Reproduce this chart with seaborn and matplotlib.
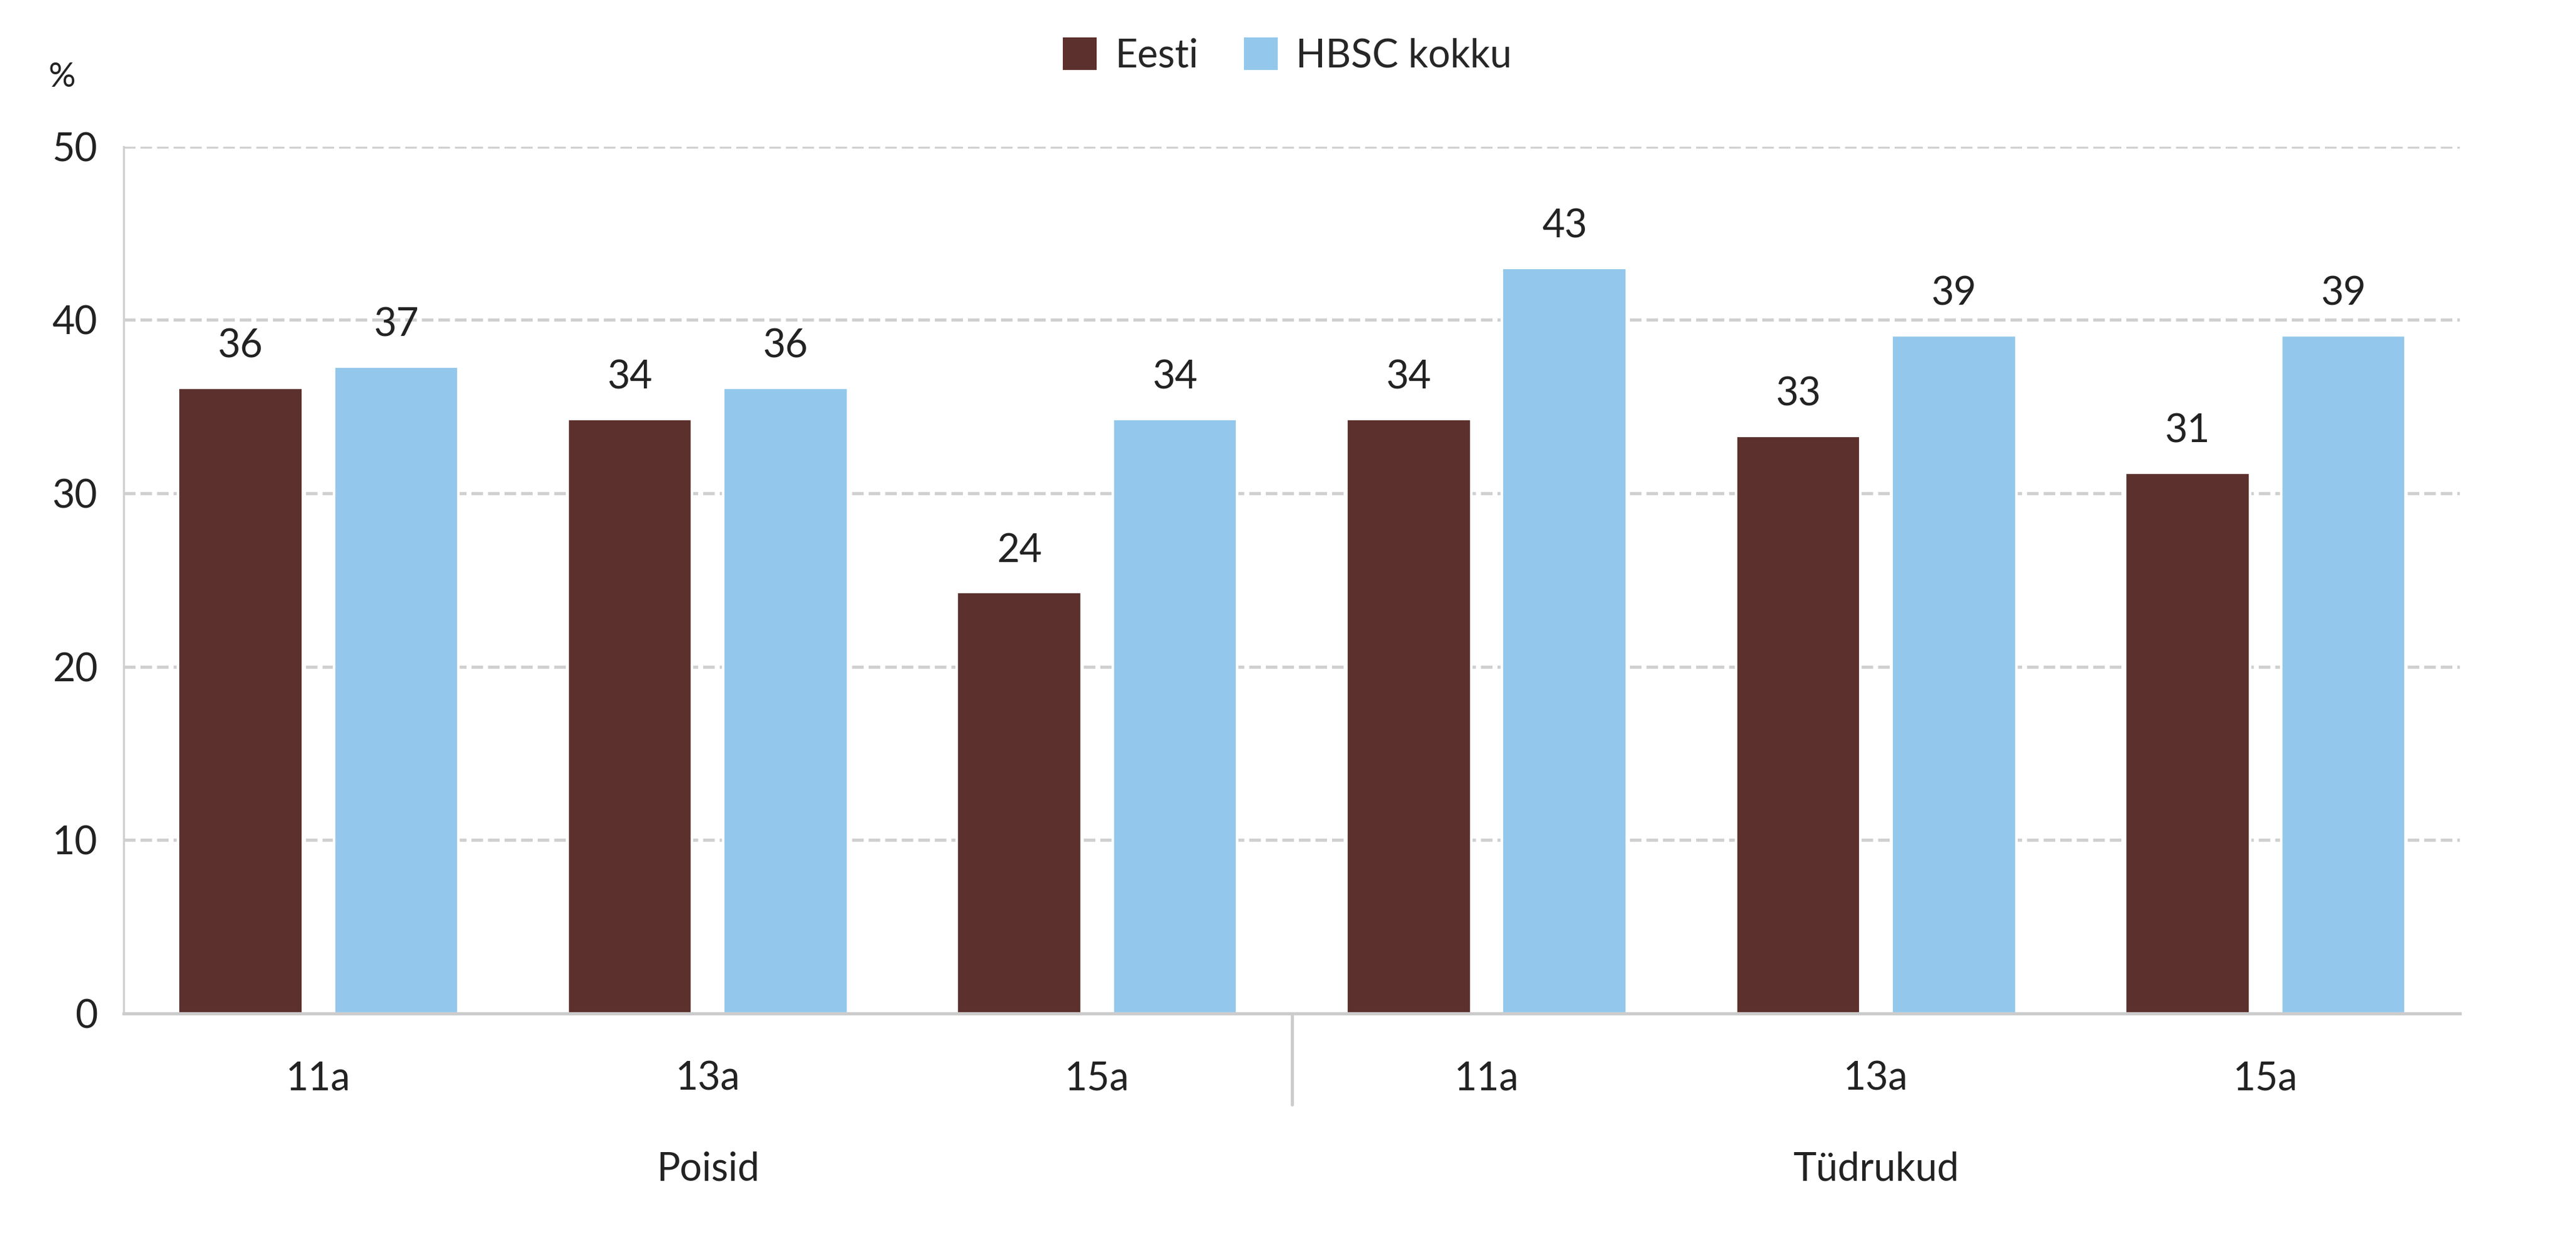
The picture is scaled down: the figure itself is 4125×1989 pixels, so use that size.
import matplotlib
matplotlib.use('Agg')
import matplotlib.pyplot as plt
import seaborn as sns
import pandas as pd

ages = ['11a', '13a', '15a', '11a', '13a', '15a']
genders = ['Poisid', 'Tüdrukud']
eesti = [36.1, 34.3, 24.3, 34.3, 33.3, 31.2]
hbsc = [37.3, 36.1, 34.3, 43.0, 39.1, 39.1]
series = ['Eesti', 'HBSC kokku']
colors = ['#5C302C', '#93C8EC']

sns.set_style('white')
plt.rcParams['font.family'] = ['Lato', 'DejaVu Sans']

rows = []
for i in range(len(ages)):
    rows.append({'pos': i, 'Series': series[0], 'Value': eesti[i]})
    rows.append({'pos': i, 'Series': series[1], 'Value': hbsc[i]})
df = pd.DataFrame(rows)

fig = plt.figure(figsize=(13.75, 6.63), dpi=300)
ax = fig.add_axes([0.048, 0.184, 0.907, 0.698])
sns.barplot(data=df, x='pos', y='Value', hue='Series', palette=colors,
            width=0.8, gap=0.2, saturation=1, ax=ax, legend=False)

for cont in ax.containers:
    ax.bar_label(cont, labels=[f'{v:.0f}' for v in cont.datavalues],
                 padding=9, fontsize=15, color='#222222')

ax.set_xlim(-0.5, 5.5)
ax.set_ylim(0, 50)
ax.set_yticks(range(0, 51, 10))
ax.tick_params(axis='y', labelsize=15, length=0, pad=10, labelcolor='#222222')
ax.set_xticks(range(6))
ax.set_xticklabels(ages, fontsize=15, color='#222222')
ax.tick_params(axis='x', length=0, pad=18)
ax.set_xlabel('')
ax.set_ylabel('')
for y in range(10, 51, 10):
    ax.axhline(y, color='#d0d0d0', linestyle='--', linewidth=1.2, zorder=0)
for s in ['top', 'right']:
    ax.spines[s].set_visible(False)
ax.spines['left'].set_color('#d0d0d0')
ax.spines['bottom'].set_color('#cccccc')
ax.spines['bottom'].set_linewidth(1.2)

# group separator and labels
ax.plot([2.5, 2.5], [0, -0.105], transform=ax.get_xaxis_transform(),
        color='#cccccc', linewidth=1.2, clip_on=False)
ax.text(1, -0.18, genders[0], transform=ax.get_xaxis_transform(),
        ha='center', va='center', fontsize=15, color='#222222')
ax.text(4, -0.18, genders[1], transform=ax.get_xaxis_transform(),
        ha='center', va='center', fontsize=15, color='#222222')

fig.text(0.024, 0.938, '%', ha='center', va='center', fontsize=13, color='#222222')

handles = [plt.Rectangle((0, 0), 1, 1, color=c) for c in colors]
fig.legend(handles, series, loc='center', bbox_to_anchor=(0.5, 0.955), ncol=2,
           frameon=False, fontsize=15, handlelength=0.8, handleheight=0.8,
           columnspacing=1.2, handletextpad=0.5)

fig.savefig('out.png', dpi=300)
